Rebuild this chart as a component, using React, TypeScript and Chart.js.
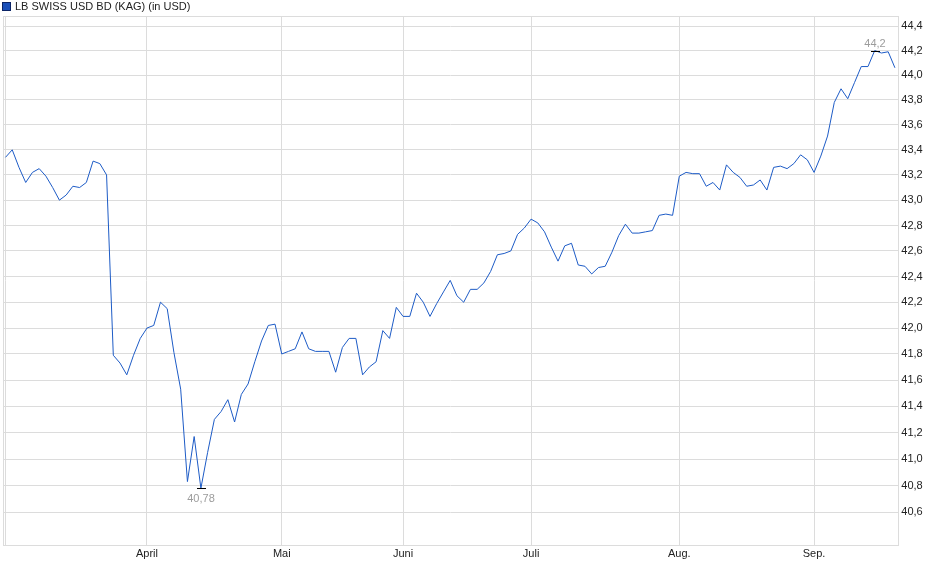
import { useEffect, useRef } from 'react';
import { Chart, registerables } from 'chart.js';

Chart.register(...registerables);

const seriesName = 'LB SWISS USD BD (KAG) (in USD)';

// daily prices (trading days), starting early March
const prices = [
  43.34, 43.40, 43.26, 43.14, 43.22, 43.25, 43.19, 43.10, 43.00, 43.04,
  43.11, 43.10, 43.14, 43.31, 43.29, 43.20, 41.79, 41.73, 41.64, 41.79,
  41.92, 42.00, 42.02, 42.20, 42.15, 41.81, 41.53, 40.83, 41.17, 40.78,
  41.05, 41.30, 41.36, 41.45, 41.28, 41.49, 41.57, 41.74, 41.90, 42.02,
  42.03, 41.80, 41.82, 41.84, 41.97, 41.84, 41.82, 41.82, 41.82, 41.66,
  41.85, 41.92, 41.92, 41.64, 41.70, 41.74, 41.98, 41.92, 42.16, 42.09,
  42.09, 42.27, 42.20, 42.09, 42.19, 42.28, 42.37, 42.25, 42.20, 42.30,
  42.30, 42.35, 42.44, 42.57, 42.58, 42.60, 42.73, 42.78, 42.85, 42.82,
  42.75, 42.63, 42.52, 42.64, 42.66, 42.49, 42.48, 42.42, 42.47, 42.48,
  42.59, 42.72, 42.81, 42.74, 42.74, 42.75, 42.76, 42.88, 42.89, 42.88,
  43.19, 43.22, 43.21, 43.21, 43.11, 43.14, 43.08, 43.28, 43.22, 43.18,
  43.11, 43.12, 43.16, 43.08, 43.26, 43.27, 43.25, 43.29, 43.36, 43.32,
  43.22, 43.35, 43.51, 43.78, 43.89, 43.81, 43.94, 44.07, 44.07, 44.20,
  44.18, 44.19, 44.06,
];

const monthLabels = ['', 'April', 'Mai', 'Juni', 'Juli', 'Aug.', 'Sep.'];
const monthStarts = [0, 21, 41, 59, 78, 100, 120];

const yTicks = [
  40.6, 40.8, 41.0, 41.2, 41.4, 41.6, 41.8, 42.0, 42.2, 42.4,
  42.6, 42.8, 43.0, 43.2, 43.4, 43.6, 43.8, 44.0, 44.2, 44.4,
];

const FONT = 'Arial, "Liberation Sans", sans-serif';
const LINE_COLOR = '#1d5bc6';
const GRID_COLOR = '#dcdcdc';

const fmtTick = (v: number) => v.toFixed(1).replace('.', ',');
const fmtExtreme = (v: number) => String(Math.round(v * 100) / 100).replace('.', ',');

const framePlugin = {
  id: 'frame',
  beforeDatasetsDraw(chart: any) {
    const { ctx, chartArea } = chart;
    ctx.save();
    ctx.strokeStyle = GRID_COLOR;
    ctx.lineWidth = 1;
    ctx.strokeRect(
      Math.round(chartArea.left) + 0.5,
      Math.round(chartArea.top) + 0.5,
      Math.round(chartArea.right) - Math.round(chartArea.left),
      Math.round(chartArea.bottom) - Math.round(chartArea.top)
    );
    ctx.restore();
  },
};

const legendPlugin = {
  id: 'customLegend',
  afterDraw(chart: any) {
    const { ctx } = chart;
    ctx.save();
    ctx.fillStyle = '#1a4fb8';
    ctx.fillRect(3, 3, 7, 7);
    ctx.strokeStyle = '#0b2466';
    ctx.lineWidth = 1;
    ctx.strokeRect(2.5, 2.5, 8, 8);
    ctx.fillStyle = '#222';
    ctx.font = `11px ${FONT}`;
    ctx.textBaseline = 'middle';
    ctx.textAlign = 'left';
    ctx.fillText(seriesName, 15, 7);
    ctx.restore();
  },
};

const extremesPlugin = {
  id: 'extremes',
  afterDatasetsDraw(chart: any) {
    const { ctx } = chart;
    const xs = chart.scales.x;
    const ys = chart.scales.y;
    let minI = 0;
    let maxI = 0;
    prices.forEach((v, i) => {
      if (v < prices[minI]) minI = i;
      if (v > prices[maxI]) maxI = i;
    });
    ctx.save();
    ctx.font = `11px ${FONT}`;
    ctx.textAlign = 'center';
    ctx.textBaseline = 'alphabetic';
    const drawMark = (i: number, above: boolean) => {
      const px = Math.round(xs.getPixelForValue(i));
      const py = Math.round(ys.getPixelForValue(prices[i]));
      ctx.strokeStyle = '#000';
      ctx.lineWidth = 1;
      ctx.beginPath();
      ctx.moveTo(px - 4, py + 0.5);
      ctx.lineTo(px + 5, py + 0.5);
      ctx.stroke();
      ctx.fillStyle = '#9c9c9c';
      if (above) ctx.fillText(fmtExtreme(prices[i]), px, py - 4);
      else ctx.fillText(fmtExtreme(prices[i]), px, py + 14);
    };
    drawMark(maxI, true);
    drawMark(minI, false);
    ctx.restore();
  },
};

export default function App() {
  const canvasRef = useRef<HTMLCanvasElement | null>(null);

  useEffect(() => {
    document.body.style.margin = '0';
    const canvas = canvasRef.current;
    if (!canvas) return;
    const chart = new Chart(canvas, {
      type: 'line',
      data: {
        datasets: [
          {
            label: seriesName,
            data: prices.map((v, i) => ({ x: i, y: v })),
            borderColor: LINE_COLOR,
            borderWidth: 1,
            pointRadius: 0,
            tension: 0,
            fill: false,
          },
        ],
      },
      options: {
        animation: false,
        responsive: false,
        maintainAspectRatio: false,
        layout: { padding: { left: 3, top: 16, right: 0, bottom: 0 } },
        plugins: {
          legend: { display: false },
          tooltip: { enabled: false },
        },
        scales: {
          x: {
            type: 'linear',
            min: -0.37,
            max: 132.5,
            afterBuildTicks: (s: any) => {
              s.ticks = monthStarts.map((v) => ({ value: v }));
            },
            afterFit: (s: any) => {
              s.height = 34;
            },
            ticks: {
              autoSkip: false,
              maxRotation: 0,
              padding: 2,
              color: '#222',
              font: { size: 11, family: FONT },
              callback: (_v: any, i: number) => monthLabels[i] ?? '',
            },
            grid: { color: GRID_COLOR, drawTicks: false },
            border: { display: false },
          },
          y: {
            type: 'logarithmic',
            position: 'right',
            min: 40.3564,
            max: 44.4818,
            afterBuildTicks: (s: any) => {
              s.ticks = yTicks.map((v) => ({ value: v }));
            },
            afterFit: (s: any) => {
              s.width = 41.7;
            },
            ticks: {
              padding: 3,
              color: '#222',
              font: { size: 11, family: FONT },
              callback: (v: any) => fmtTick(Number(v)),
            },
            grid: { color: GRID_COLOR, drawTicks: false },
            border: { display: false },
          },
        },
      },
      plugins: [framePlugin, extremesPlugin, legendPlugin],
    } as any);
    return () => chart.destroy();
  }, []);

  return (
    <div style={{ width: 940, height: 579, position: 'relative' }}>
      <canvas ref={canvasRef} width={940} height={579} style={{ display: 'block' }} />
    </div>
  );
}
